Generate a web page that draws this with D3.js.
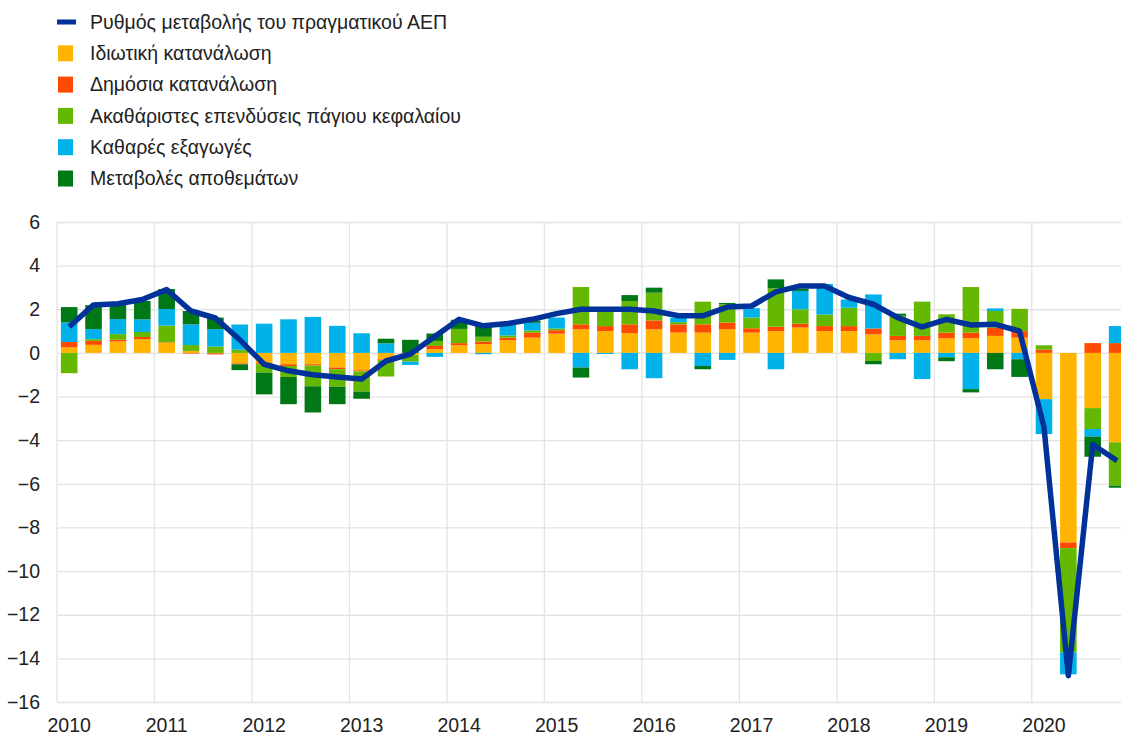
<!DOCTYPE html>
<html>
<head>
<meta charset="utf-8">
<script src="https://cdn.jsdelivr.net/npm/d3@7"></script>
<style>
  html, body { margin: 0; padding: 0; background: #fff; }
  svg { display: block; }
  text { font-family: "Liberation Sans", Arial, sans-serif; fill: #222; }
</style>
</head>
<body>
<svg id="chart" width="1121" height="737"></svg>
<script>
// ---------- data (quarterly, 2010Q1 – 2020Q4) ----------
const quarters = d3.range(2010, 2021).flatMap(yr => [1, 2, 3, 4].map(q => yr + "Q" + q));
const yearLabels = ["2010","2011","2012","2013","2014","2015","2016","2017","2018","2019","2020"];
const yTicks = [6, 4, 2, 0, -2, -4, -6, -8, -10, -12, -14, -16];

const seriesNames = [
  "Ρυθμός μεταβολής του πραγματικού ΑΕΠ",
  "Ιδιωτική κατανάλωση",
  "Δημόσια κατανάλωση",
  "Ακαθάριστες επενδύσεις πάγιου κεφαλαίου",
  "Καθαρές εξαγωγές",
  "Μεταβολές αποθεμάτων"
];

const gdp = [1.2, 2.2, 2.25, 2.45, 2.9, 1.92, 1.6, 0.6, -0.52, -0.82, -1.0, -1.1,
             -1.2, -0.37, -0.05, 0.75, 1.54, 1.24, 1.35, 1.54, 1.8, 2.0, 2.0, 2.0,
             1.92, 1.7, 1.7, 2.1, 2.15, 2.8, 3.07, 3.07, 2.54, 2.23, 1.62, 1.19,
             1.54, 1.28, 1.31, 1.0, -3.4, -14.8, -4.2, -4.94];

const privateCons = [0.25, 0.37, 0.52, 0.63, 0.47, 0.09, -0.02, -0.49, -0.47, -0.52, -0.52, -0.67,
                     -0.8, -0.3, -0.1, 0.17, 0.35, 0.4, 0.58, 0.7, 0.88, 1.08, 1.0, 0.9,
                     1.08, 0.93, 0.93, 1.08, 0.93, 1.0, 1.16, 1.0, 1.0, 0.85, 0.58, 0.58,
                     0.67, 0.67, 0.78, 0.7, -2.12, -8.69, -2.53, -4.1];

const publicCons = [0.25, 0.18, 0.08, 0.1, 0.02, -0.03, -0.05, -0.03, -0.05, -0.08, -0.06, -0.08,
                    -0.05, -0.03, 0.0, 0.15, 0.1, 0.12, 0.12, 0.23, 0.16, 0.23, 0.23, 0.41,
                    0.41, 0.38, 0.38, 0.31, 0.2, 0.2, 0.18, 0.23, 0.23, 0.27, 0.2, 0.2,
                    0.26, 0.26, 0.38, 0.3, 0.15, -0.26, 0.45, 0.45];

const investment = [-0.93, 0.08, 0.26, 0.23, 0.76, 0.27, 0.29, 0.15, -0.38, -0.5, -0.95, -0.8,
                    -0.92, -0.75, -0.3, 0.23, 0.65, 0.22, 0.1, 0.1, 0.08, 1.71, 0.84, 1.07,
                    1.27, 0.1, 1.04, 0.84, 0.49, 1.76, 0.66, 0.53, 0.84, -0.37, 0.92, 1.57,
                    0.84, 2.09, 0.76, 1.02, 0.2, -4.78, -0.96, -1.98];

const netExports = [0.9, 0.46, 0.69, 0.58, 0.76, 0.95, 0.8, 1.15, 1.34, 1.54, 1.65, 1.24,
                    0.9, 0.44, -0.15, -0.18, 0.0, -0.06, 0.55, 0.35, 0.5, -0.67, -0.05, -0.75,
                    -1.16, 0.2, -0.6, -0.32, 0.43, -0.75, 0.84, 1.4, 0.38, 1.56, -0.29, -1.2,
                    -0.2, -1.66, 0.12, -0.29, -1.6, -1.0, -0.35, 0.78];

const inventories = [0.7, 1.1, 0.66, 0.84, 0.92, 0.61, 0.53, -0.27, -1.0, -1.25, -1.2, -0.8,
                     -0.33, 0.21, 0.6, 0.34, 0.42, 0.55, 0.0, 0.1, 0.0, -0.46, 0.0, 0.27,
                     0.23, 0.0, -0.15, 0.06, 0.0, 0.41, 0.1, 0.0, 0.0, -0.15, 0.1, 0.0,
                     -0.18, -0.15, -0.75, -0.81, 0.0, 0.0, -0.92, -0.1];

const colors = ["#003299", "#FFB400", "#FF4B00", "#65B800", "#00B1EA", "#007816"];

// ---------- build table ----------
const keys = ["priv", "pub", "inv", "nx", "stk"];
const comp = [privateCons, publicCons, investment, netExports, inventories];
const table = quarters.map((q, i) => {
  const row = { q };
  keys.forEach((k, j) => row[k] = comp[j][i]);
  return row;
});

// ---------- layout ----------
const svg = d3.select("#chart");
const plotLeft = 57, plotTop = 222, plotBottom = 702;
const qStep = 24.37;
const plotRight = plotLeft + qStep * quarters.length;

const x = d3.scaleBand().domain(quarters).range([plotLeft, plotRight]).paddingInner(0.32).paddingOuter(0.16);
const y = d3.scaleLinear().domain([-16, 6]).range([plotBottom, plotTop]);

// grid: horizontal
const gy = svg.append("g").attr("transform", `translate(${plotLeft},0)`)
  .call(d3.axisLeft(y).tickValues(yTicks).tickSize(-(1121 - plotLeft)).tickPadding(17).tickFormat(d3.format("d")));
gy.select(".domain").remove();
gy.selectAll(".tick line").attr("stroke", "#e3e3e3").attr("stroke-width", 1.3);
gy.selectAll(".tick text").style("font-size", "19.5px").attr("fill", "#222");

// grid: vertical (year boundaries)
const yearStarts = quarters.filter(q => q.endsWith("Q1"));
svg.append("g").selectAll("line").data(yearStarts).join("line")
  .attr("x1", d => x(d) - x.step() * x.paddingInner() / 2)
  .attr("x2", d => x(d) - x.step() * x.paddingInner() / 2)
  .attr("y1", plotTop).attr("y2", plotBottom)
  .attr("stroke", "#e3e3e3").attr("stroke-width", 1.3);

// x axis labels
const gx = svg.append("g").attr("transform", `translate(0,${plotBottom})`)
  .call(d3.axisBottom(x).tickValues(yearStarts).tickSize(0).tickPadding(16)
    .tickFormat((d, i) => yearLabels[i]));
gx.select(".domain").remove();
gx.selectAll(".tick text").style("font-size", "19.5px").attr("fill", "#222");

// stacked bars
const stack = d3.stack().keys(keys).offset(d3.stackOffsetDiverging)(table);
svg.append("g").selectAll("g").data(stack).join("g")
  .attr("fill", (d, i) => colors[i + 1])
  .selectAll("rect").data(d => d).join("rect")
  .attr("x", d => x(d.data.q))
  .attr("width", x.bandwidth())
  .attr("y", d => y(Math.max(d[0], d[1])))
  .attr("height", d => Math.abs(y(d[0]) - y(d[1])));

// GDP line
const line = d3.line()
  .x((d, i) => x(quarters[i]) + x.bandwidth() / 2)
  .y(d => y(d));
svg.append("path").datum(gdp)
  .attr("d", line)
  .attr("fill", "none")
  .attr("stroke", colors[0])
  .attr("stroke-width", 5.5)
  .attr("stroke-linejoin", "round");

// legend
const lg = svg.append("g");
const items = lg.selectAll("g").data(seriesNames).join("g")
  .attr("transform", (d, i) => `translate(58,${22 + i * 31.3})`);
items.filter((d, i) => i === 0).append("rect")
  .attr("x", -1).attr("y", -2.5).attr("width", 19).attr("height", 5).attr("fill", colors[0]);
items.filter((d, i) => i > 0).append("rect")
  .attr("x", 0).attr("y", -8).attr("width", 15).attr("height", 16)
  .attr("fill", (d, i) => colors[i + 1]);
items.append("text")
  .attr("x", 32).attr("y", 0).attr("dy", "0.35em")
  .style("font-size", "19.5px")
  .text(d => d);
</script>
</body>
</html>
